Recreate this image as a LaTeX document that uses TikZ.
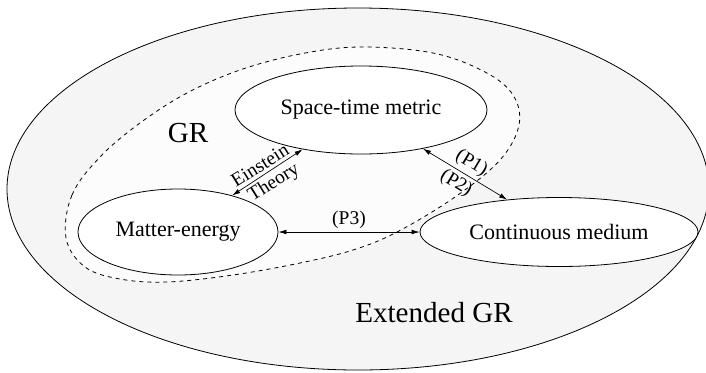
\documentclass[tikz,border=0pt]{standalone}
\usepackage{fontspec}
\setmainfont{Liberation Serif}
\usetikzlibrary{shapes.geometric,arrows.meta}

\tikzset{every picture/.style={line width=0.6pt},
  fieldbox/.style={ellipse, draw, fill=white, inner sep=0pt, font=\fontsize{16.5}{18}\selectfont},
  link/.style={{Latex[length=6pt,width=3.5pt]}-{Latex[length=6pt,width=3.5pt]}, line width=0.5pt},
  linklabel/.style={font=\fontsize{14.6}{16}\selectfont, inner sep=2.5pt},
  realm/.style={font=\fontsize{21.8}{24}\selectfont, inner sep=0pt}}

\begin{document}
\begin{tikzpicture}[x=0.75pt,y=0.75pt,yscale=-1,xscale=1]
\useasboundingbox (0,0) rectangle (706,372);

%Shape: Ellipse [extended GR]
\draw [fill=gray!8] (358,189) ellipse [x radius=351, y radius=181];
%Shape: Closed Curve [GR]
\draw [dashed, fill=gray!2] plot [smooth cycle, tension=0.6] coordinates {
  (66,238) (72,195) (100,157) (140,123) (187,93) (240,70) (300,54) (360,47)
  (433,53) (485,72) (513,95) (519,125) (500,160) (455,197) (397,232)
  (353,250) (300,263) (233,275) (167,282) (120,279) (85,267)};

% Ellipse Nodes
\node (stm) [fieldbox, minimum width=189pt, minimum height=66pt] at (361,110) {Space-time metric};
\node (me) [fieldbox, minimum width=150pt, minimum height=64.5pt] at (178,232) {Matter-energy};
\node (cm) [fieldbox, minimum width=208.5pt, minimum height=51.75pt] at (559,232) {Continuous medium};

% Connectors
\draw [link] (me.34) -- (stm.214.5)
  node [linklabel, pos=0.47, above, rotate=32] (ein) {Einstein}
  node [linklabel, pos=0.5, below, rotate=32] (thy) {Theory};
\draw [link] (stm.328) -- (cm.148)
  node [linklabel, pos=0.5, above, rotate=-31] (p1) {(P1)}
  node [linklabel, pos=0.47, below, rotate=-31] (p2) {(P2)};
\draw [link] (me.east) -- (cm.west)
  node [linklabel, midway, above] (p3) {(P3)};

% Text Node
\node (gr) [realm] at (188,133) {GR};
% Text Node
\node (egr) [realm] at (434,313) {Extended GR};

\end{tikzpicture}
\end{document}
